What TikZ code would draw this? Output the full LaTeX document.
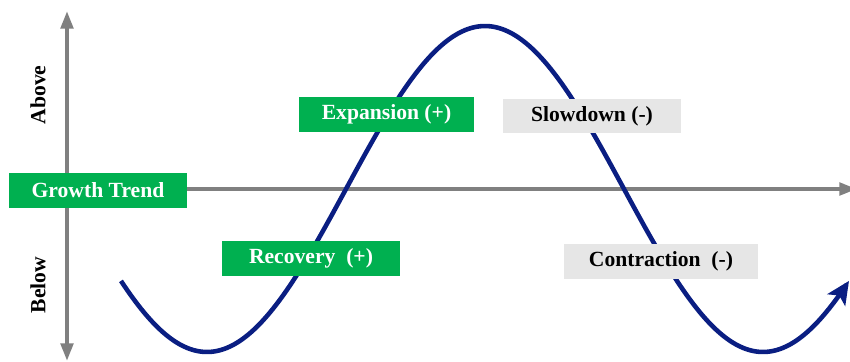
\documentclass[tikz,border=0pt]{standalone}
\usepackage{fontspec}
\setmainfont{Liberation Serif}
\usetikzlibrary{arrows.meta}
\definecolor{phasegreen}{HTML}{00B050}
\definecolor{phasegray}{HTML}{E6E6E6}
\definecolor{cyclenavy}{HTML}{0A1E82}
\tikzset{
    axis/.style={draw=gray, line width=2.2pt, -{Triangle[width=7pt, length=10pt]}}, % axes of the chart
    up phase/.style={fill=phasegreen, text=white, minimum height=0.7cm, font=\fontsize{12.3}{14}\selectfont\bfseries}, % (+) phases
    down phase/.style={fill=phasegray, text=black, minimum height=0.7cm, font=\fontsize{12.3}{14}\selectfont\bfseries}  % (-) phases
}
\begin{document}
\begin{tikzpicture}[x=0.02cm, y=-0.02cm, font=\fontsize{12.3}{14}\selectfont\bfseries]

            \useasboundingbox (0,0) rectangle (850,362);

            % vertical axis
            \coordinate (top) at (67,11);
            \coordinate (bottom) at (67,361);
            \draw[axis, {Triangle[width=7pt, length=10pt]}-{Triangle[width=7pt, length=10pt]}] (bottom) -- (top);
            \node[rotate=90] (above) at (38,95) {Above};
            \node[rotate=90] (below) at (38,285) {Below};

            % trend line
            \node[up phase, minimum width=3.56cm] (trend) at (98,190.5) {Growth Trend};
            \coordinate (right) at (857,189);
            \draw[axis] (trend.east |- right) -- (right);

            % business cycle
            \draw[cyclenavy, line width=2.6pt, -{Stealth[length=13pt, width=12pt, inset=3pt]}]
                plot[domain=121:849, samples=200, smooth] (\x, {189+163*cos(360*((\x-207)/556))});

            \node[up phase, minimum width=3.5cm] (expansion) at (386.5,114.5) {Expansion (+)};
            \node[down phase, minimum width=3.56cm] (slowdown) at (592,116) {Slowdown (-)};
            \node[up phase, minimum width=3.56cm] (recovery) at (311,258.5) {Recovery\ \ (+)};
            \node[down phase, minimum width=3.88cm] (contraction) at (661,261.5) {Contraction\ \ (-)};
        \end{tikzpicture}
\end{document}
